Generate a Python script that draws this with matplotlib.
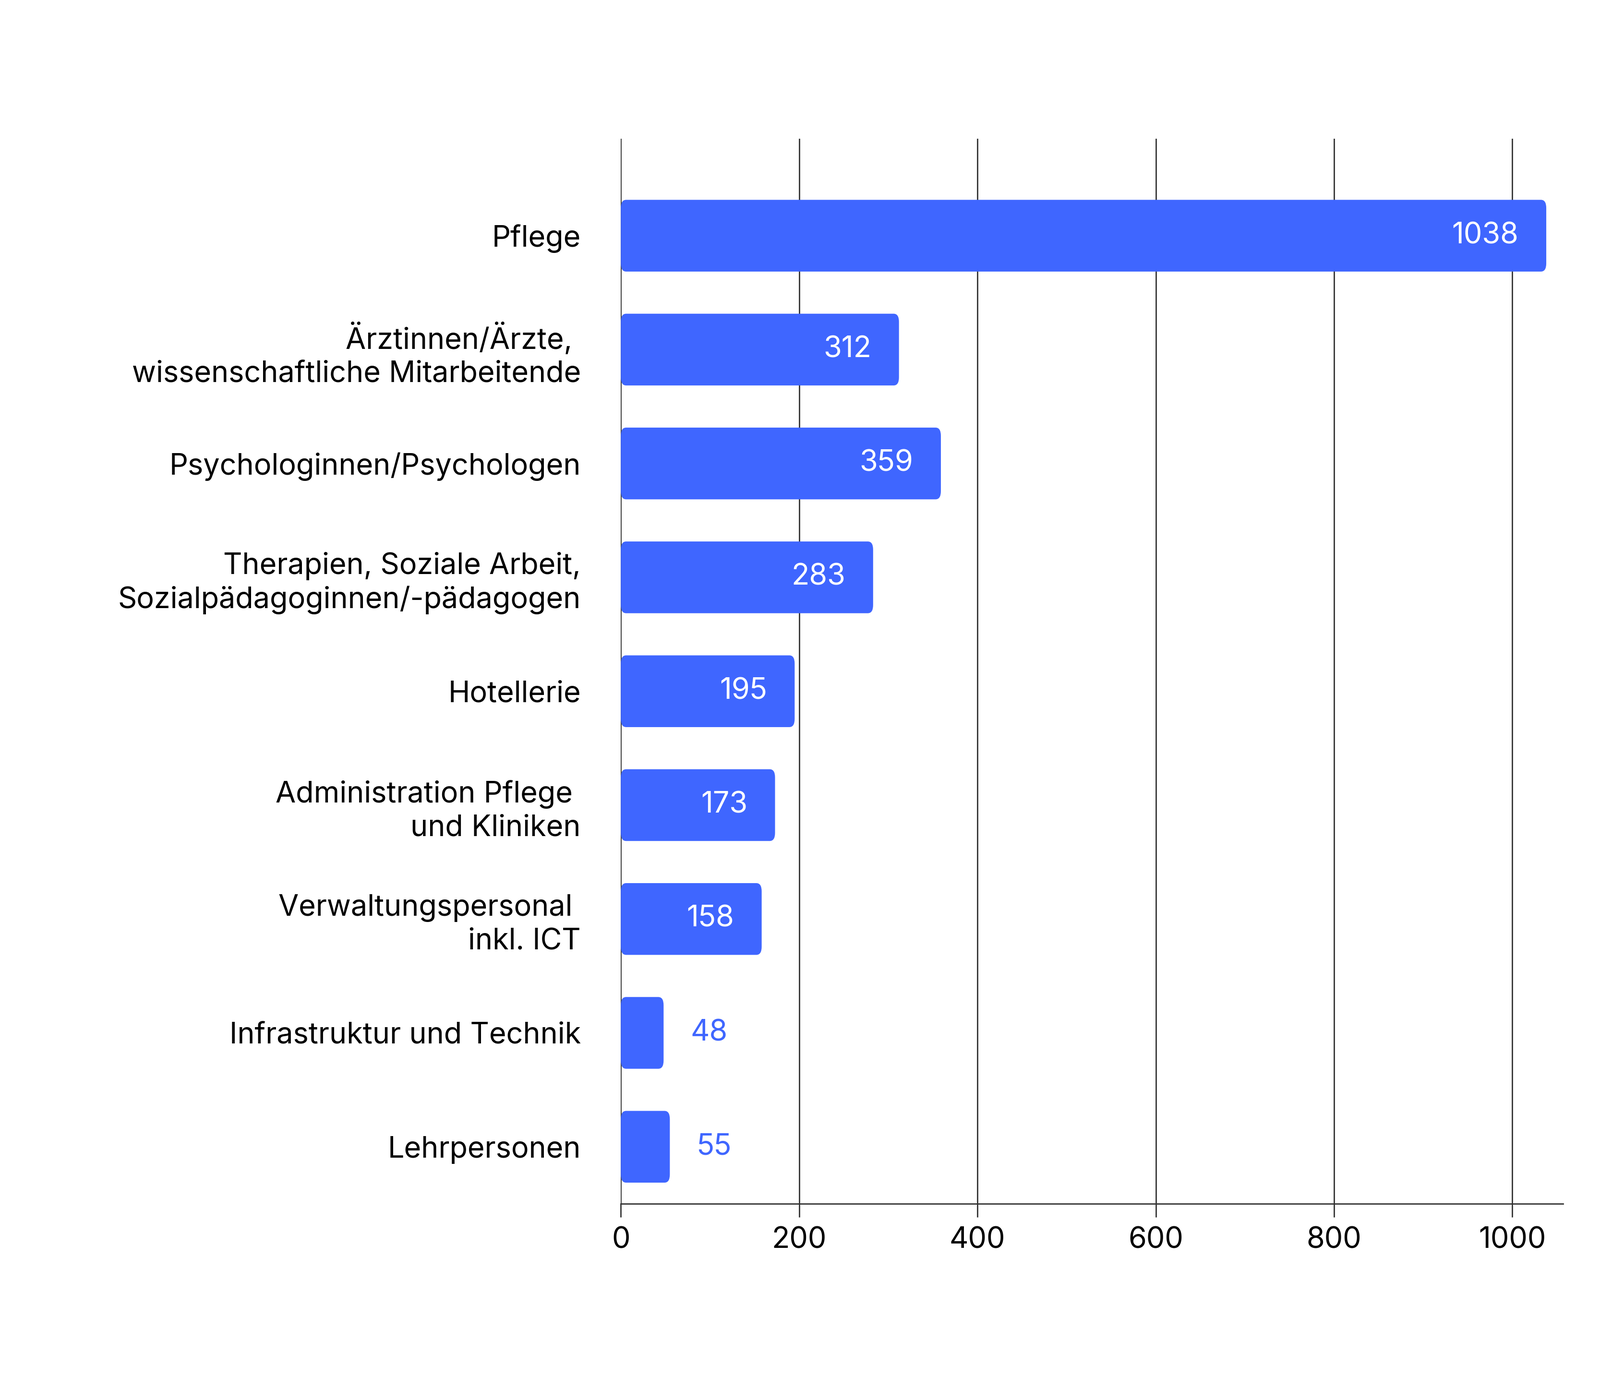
import matplotlib
matplotlib.use("Agg")
import matplotlib.pyplot as plt
from matplotlib.patches import FancyBboxPatch

categories = ["Pflege", "Ärztinnen/Ärzte, \nwissenschaftliche Mitarbeitende", "Psychologinnen/Psychologen",
              "Therapien, Soziale Arbeit,\nSozialpädagoginnen/-pädagogen", "Hotellerie",
              "Administration Pflege \nund Kliniken", "Verwaltungspersonal \ninkl. ICT",
              "Infrastruktur und Technik", "Lehrpersonen"]
values = [1038, 312, 359, 283, 195, 173, 158, 48, 55]
ticks = [0, 200, 400, 600, 800, 1000]

color = "#3F66FF"
plt.rcParams["font.family"] = "Inter"
fig = plt.figure(figsize=(33.33, 28.94), dpi=100)
ax = fig.add_axes([0.388, 0.1334, 0.589, 0.7666])
ys = list(range(len(values)))
bars = ax.barh(ys, values, height=0.63, color=color, zorder=3)
for b in bars:
    b.set_visible(False)
    p = FancyBboxPatch((b.get_x(), b.get_y()), b.get_width(), b.get_height(),
                       boxstyle="round,pad=0,rounding_size=6", mutation_aspect=0.012,
                       fc=color, ec="none", zorder=3)
    ax.add_patch(p)
for y, v in zip(ys, values):
    if v > 100:
        ax.text(v - 31, y, str(v), ha="right", va="center", color="white", fontsize=44, zorder=4)
    else:
        ax.text(v + 30, y, str(v), ha="left", va="center", color=color, fontsize=44, zorder=4)
ax.set_xlim(0, 1057)
ax.set_ylim(8.5, -0.85)
ax.set_yticks(ys)
ax.set_yticklabels(categories, fontsize=44, linespacing=1.25)
ax.set_xticks(ticks)
ax.set_xticklabels([str(t) for t in ticks], fontsize=44)
ax.tick_params(axis="y", length=0, pad=60)
ax.tick_params(axis="x", length=20, width=2, color="#333333", pad=14)
ax.grid(axis="x", color="#333333", linewidth=2, zorder=0)
for s in ["top", "right", "left"]:
    ax.spines[s].set_visible(False)
ax.spines["bottom"].set_color("#333333")
ax.spines["bottom"].set_linewidth(2)
fig.savefig("out.png", dpi=100, facecolor="white")
